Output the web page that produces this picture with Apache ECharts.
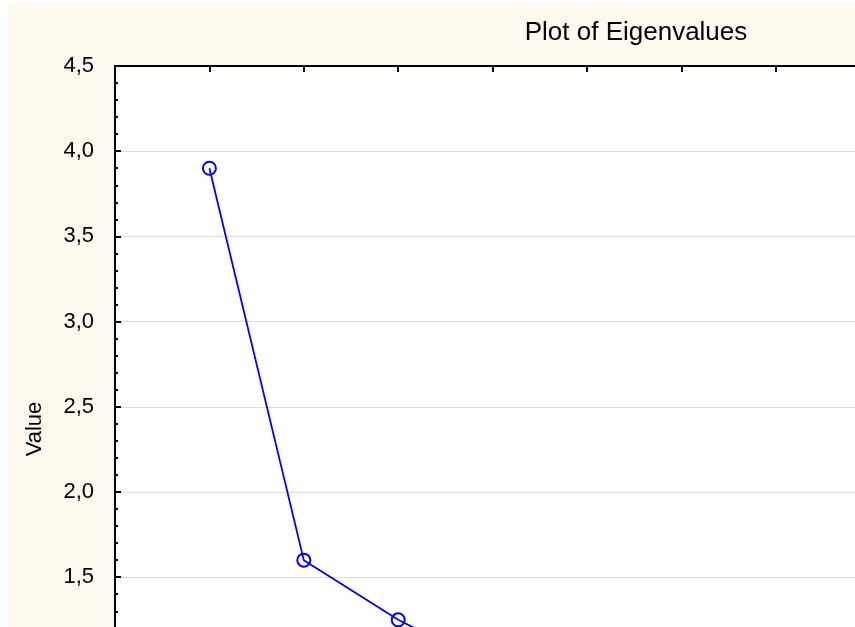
<!DOCTYPE html>
<html>
<head>
<meta charset="utf-8">
<script src="https://cdn.jsdelivr.net/npm/echarts@6/dist/echarts.min.js"></script>
<style>
html,body{margin:0;padding:0;background:#ffffff;}
#chart{position:absolute;left:8px;top:3px;width:847px;height:624px;}
</style>
</head>
<body>
<div id="chart"></div>
<script>
// Data
var titleText = 'Plot of Eigenvalues';
var yAxisName = 'Value';
var factorNumbers = [1, 2, 3, 4];
var eigenValues = [3.9, 1.6, 1.25, 0.97];

var chart = echarts.init(document.getElementById('chart'));
var pts = factorNumbers.map(function (n, i) { return [n, eigenValues[i]]; });
var FONT = '"Liberation Sans", Arial, sans-serif';

chart.setOption({
  backgroundColor: '#FEF9EE',
  animation: false,
  graphic: [{
    type: 'text',
    x: 636 - 8, y: 33 - 3,
    style: { text: titleText, font: '26px ' + FONT, fill: '#000', align: 'center', verticalAlign: 'middle' }
  }, {
    type: 'text',
    x: 35 - 8, y: 429 - 3,
    rotation: Math.PI / 2,
    style: { text: yAxisName, font: '22px ' + FONT, fill: '#000', align: 'center', verticalAlign: 'middle' }
  }],
  grid: {
    left: 107, top: 63, width: 1038.4, height: 766.8,
    outerBoundsMode: 'none', containLabel: false,
    show: true, backgroundColor: '#ffffff', borderWidth: 0
  },
  xAxis: {
    type: 'value', position: 'top', min: 0, max: 11, interval: 1,
    axisLine: { show: true, onZero: false, lineStyle: { color: '#000', width: 2 } },
    axisTick: { show: true, inside: true, length: 6, lineStyle: { color: '#000', width: 2 } },
    axisLabel: { show: false },
    splitLine: { show: false }
  },
  yAxis: {
    type: 'value', min: 0, max: 4.5, interval: 0.5,
    axisLine: { show: true, onZero: false, lineStyle: { color: '#000', width: 2 } },
    axisTick: { show: true, inside: true, length: 6, lineStyle: { color: '#000', width: 2 } },
    minorTick: { show: true, splitNumber: 5, length: 3, lineStyle: { color: '#000', width: 2 } },
    axisLabel: {
      fontFamily: FONT, fontSize: 22, color: '#000', margin: 21,
      formatter: function (v) { return v.toFixed(1).replace('.', ','); }
    },
    splitLine: { show: true, lineStyle: { color: '#DCDCDC', width: 1 } }
  },
  series: [{
    type: 'line',
    data: pts,
    symbol: 'circle',
    symbolSize: 13,
    lineStyle: { color: '#0000FF', width: 1.8 },
    itemStyle: { color: 'rgba(0,0,0,0)', borderColor: '#0000FF', borderWidth: 2 }
  }]
});
</script>
</body>
</html>
